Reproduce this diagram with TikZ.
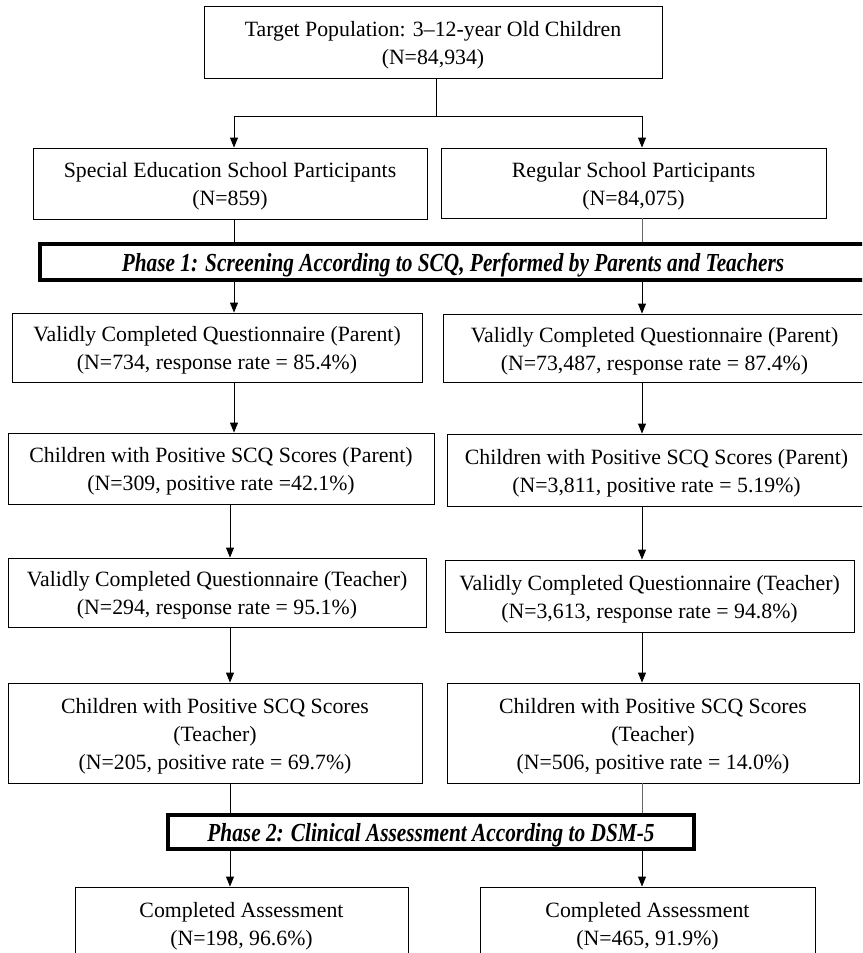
\documentclass[tikz,border=0pt]{standalone}
\usepackage{fontspec}
\setmainfont{Liberation Serif}
\newfontfamily\phasefont{Liberation Serif}[FakeStretch=0.82]
\usetikzlibrary{arrows.meta}
\tikzset{
  box/.style={draw, line width=0.9pt, inner sep=0pt},
  boxtext/.style={inner sep=0pt, align=center, font=\fontsize{21.8}{28}\selectfont},
  phase/.style={draw, line width=3.6pt, inner sep=0pt},
  phasetext/.style={inner sep=0pt, align=center, font=\phasefont\bfseries\itshape\fontsize{26}{28}\selectfont},
  ln/.style={line width=0.9pt},
  lng/.style={line width=0.9pt, black!60},
  arr/.style={line width=0.9pt, -{Triangle[length=10pt,width=8pt]}},
}
% \bx{style}{name}{x1}{y1}{x2}{y2}{text}
\newcommand\bx[7]{\node[#1, minimum width={(#5)-(#3)}, minimum height={(#6)-(#4)}] (#2) at ({((#3)+(#5))/2},{((#4)+(#6))/2}) {};
  \node[#1text] (#2-t) at ([yshift=-3pt]#2.center) {#7};}
\begin{document}
\begin{tikzpicture}[x=1pt,y=-1pt]
\useasboundingbox (0,0) rectangle (862,953);
\clip (0,0) rectangle (862,953);
\fill[white] (0,0) rectangle (862,953);
% coordinates for connector columns
\coordinate (xL) at (234,0);
\coordinate (xL2) at (230,0);
\coordinate (xR) at (642,0);
\coordinate (xT) at (436,0);
% boxes
\bx{box}{top}{204}{6}{662}{78}{Target Population: 3--12-year Old Children\\(N=84,934)}
\bx{box}{spec}{33}{148}{427}{219}{Special Education School Participants\\(N=859)}
\bx{box}{reg}{441}{148}{826}{218}{Regular School Participants\\(N=84,075)}
\bx{phase}{p1}{40}{244}{866}{280}{Phase 1: Screening According to SCQ, Performed by Parents and Teachers}
\bx{box}{r2l}{12}{313}{422}{382}{Validly Completed Questionnaire (Parent)\\(N=734, response rate = 85.4\%)}
\bx{box}{r2r}{443}{314}{866}{382}{Validly Completed Questionnaire (Parent)\\(N=73,487, response rate = 87.4\%)}
\bx{box}{r3l}{8}{433}{434}{504}{Children with Positive SCQ Scores (Parent)\\(N=309, positive rate =42.1\%)}
\bx{box}{r3r}{447}{434}{866}{506}{Children with Positive SCQ Scores (Parent)\\(N=3,811, positive rate = 5.19\%)}
\bx{box}{r4l}{8}{558}{426}{627}{Validly Completed Questionnaire (Teacher)\\(N=294, response rate = 95.1\%)}
\bx{box}{r4r}{445}{560}{854}{632}{Validly Completed Questionnaire (Teacher)\\(N=3,613, response rate = 94.8\%)}
\bx{box}{r5l}{8}{683}{422}{783}{Children with Positive SCQ Scores\\(Teacher)\\(N=205, positive rate = 69.7\%)}
\bx{box}{r5r}{447}{683}{859}{783}{Children with Positive SCQ Scores\\(Teacher)\\(N=506, positive rate = 14.0\%)}
\bx{phase}{p2}{168}{815}{694}{849}{Phase 2: Clinical Assessment According to DSM-5}
\bx{box}{b1}{75}{887}{408}{959}{Completed Assessment\\(N=198, 96.6\%)}
\bx{box}{b2}{480}{887}{815}{959}{Completed Assessment\\(N=465, 91.9\%)}
% connectors
\coordinate (split) at (436,116);
\draw[ln] (top.south -| xT) -- (split);
\draw[arr] (split) -| (spec.north -| xL);
\draw[arr] (split) -| (reg.north -| xR);
\draw[ln] (spec.south -| xL) -- (p1.north -| xL);
\draw[lng] (reg.south -| xR) -- (p1.north -| xR);
\draw[arr] (p1.south -| xL) -- (r2l.north -| xL);
\draw[arr] (p1.south -| xR) -- (r2r.north -| xR);
\draw[arr] (r2l.south -| xL) -- (r3l.north -| xL);
\draw[arr] (r2r.south -| xR) -- (r3r.north -| xR);
\draw[arr] (r3l.south -| xL2) -- (r4l.north -| xL2);
\draw[arr] (r3r.south -| xR) -- (r4r.north -| xR);
\draw[arr] (r4l.south -| xL2) -- (r5l.north -| xL2);
\draw[arr] (r4r.south -| xR) -- (r5r.north -| xR);
\draw[ln] (r5l.south -| xL2) -- (p2.north -| xL2);
\draw[lng] (r5r.south -| xR) -- (p2.north -| xR);
\draw[arr] (p2.south -| xL2) -- (b1.north -| xL2);
\draw[arr] (p2.south -| xR) -- (b2.north -| xR);
\end{tikzpicture}
\end{document}
